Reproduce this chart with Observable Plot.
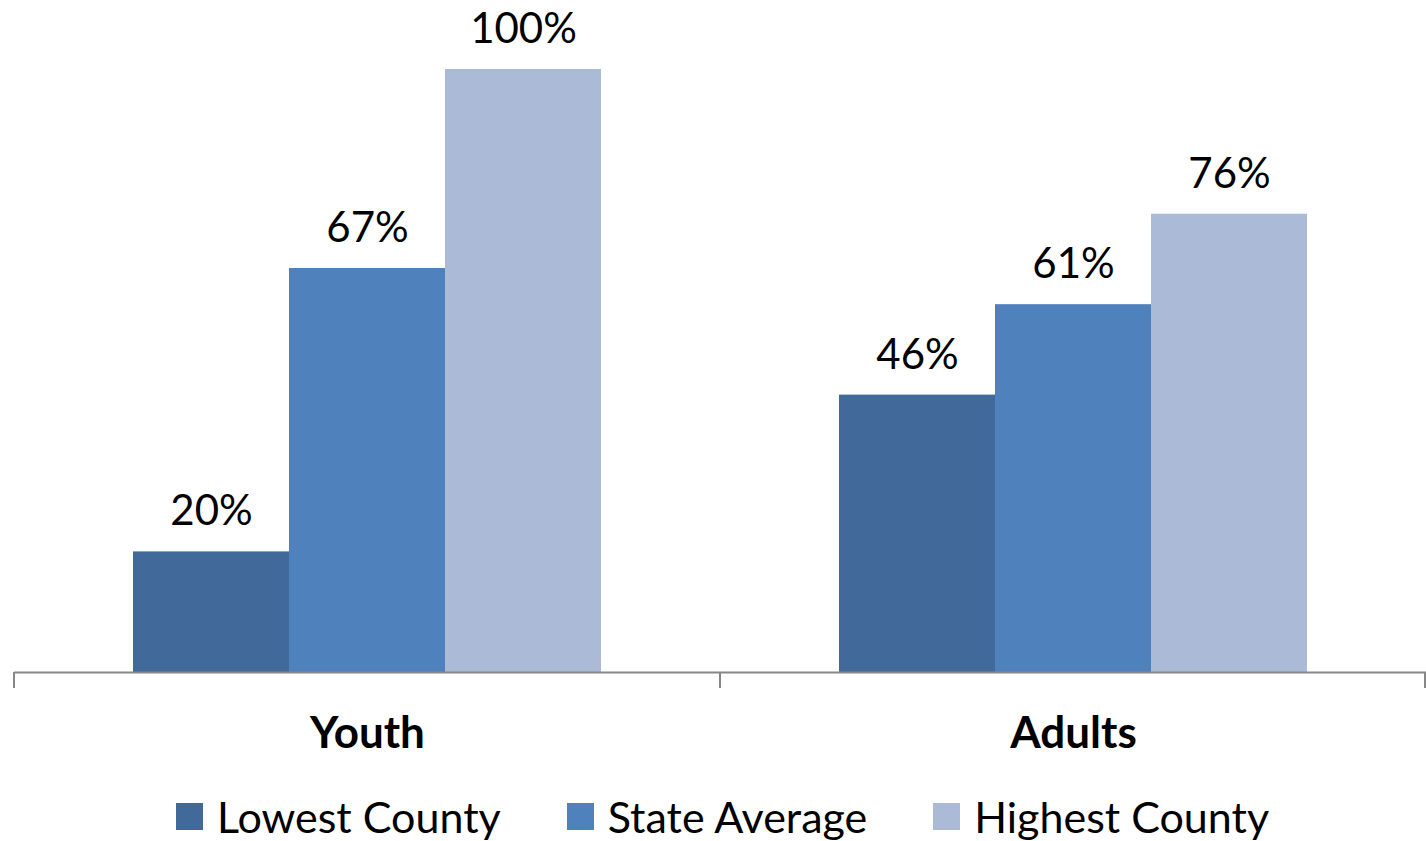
<!DOCTYPE html>
<html>
<head>
<meta charset="utf-8">
<script src="https://cdn.jsdelivr.net/npm/d3@7"></script>
<script src="https://cdn.jsdelivr.net/npm/@observablehq/plot@0.6"></script>
<style>
  html, body { margin: 0; padding: 0; background: #fff; }
  body { width: 1426px; height: 841px; overflow: hidden; font-family: Lato, "Open Sans", sans-serif; }
  #legend { display: flex; justify-content: flex-start; align-items: center; height: 92px; padding-left: 176px; box-sizing: border-box; font-size: 43px; color: #000; }
  .item { display: flex; align-items: center; margin-right: 66px; white-space: nowrap; }
  .sw { width: 27px; height: 27px; margin-right: 14px; }
</style>
</head>
<body>
<div id="chart"></div>
<div id="legend"></div>
<script>
const groups = ["Youth", "Adults"];
const series = ["Lowest County", "State Average", "Highest County"];
const youthValues = [20, 67, 100];
const adultValues = [46, 61, 76];
const colors = ["#416A9B", "#4F81BD", "#AABAD7"];

const groupValues = [youthValues, adultValues];
const data = groups.flatMap((g, i) => series.map((s, j) => ({group: g, series: s, value: groupValues[i][j]})));

const plot = Plot.plot({
  width: 1426,
  height: 770,
  marginLeft: 13,
  marginRight: 0,
  marginTop: 69,
  marginBottom: 98,
  style: {fontFamily: "Lato, 'Open Sans', sans-serif", background: "#fff", color: "#000"},
  fx: {domain: groups, padding: 0, label: null, axis: null},
  x: {domain: series, paddingInner: 0, paddingOuter: 0.75, axis: null},
  y: {domain: [0, 100], axis: null},
  color: {domain: series, range: colors},
  marks: [
    Plot.barY(data, {fx: "group", x: "series", y: "value", fill: "series"}),
    Plot.text(data, {fx: "group", x: "series", y: "value", text: d => d.value + "%", dy: -40, lineAnchor: "middle", fontSize: 42, fill: "#000"}),
    Plot.ruleY([0], {stroke: "#878787", strokeWidth: 2}),
    Plot.axisFx({anchor: "bottom", tickSize: 0, tickPadding: 44, fontSize: 44, fontWeight: "bold", label: null, fill: "#000"})
  ]
});
document.getElementById("chart").appendChild(plot);

// group separator ticks below the baseline, placed with the fx and y scales
const fx = plot.scale("fx");
const ys = plot.scale("y");
const y0 = ys.apply(0);
const xs = groups.map(g => fx.apply(g)).concat([fx.apply(groups[groups.length - 1]) + fx.bandwidth]);
d3.select(plot).append("g")
  .selectAll("line").data(xs).join("line")
  .attr("x1", d => Math.min(d, 1425)).attr("x2", d => Math.min(d, 1425))
  .attr("y1", y0).attr("y2", y0 + 16)
  .attr("stroke", "#878787").attr("stroke-width", 2);

const legend = d3.select("#legend");
series.forEach((s, i) => {
  const it = legend.append("div").attr("class", "item");
  it.append("div").attr("class", "sw").style("background", colors[i]);
  it.append("span").text(s);
});
</script>
</body>
</html>
